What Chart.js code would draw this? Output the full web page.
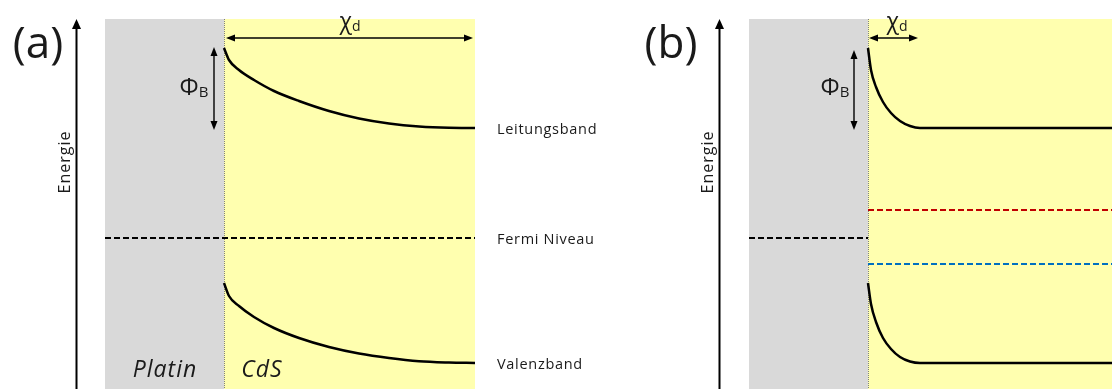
<!DOCTYPE html>
<html>
<head>
<meta charset="utf-8">
<script src="https://cdn.jsdelivr.net/npm/chart.js@4.4.1/dist/chart.umd.min.js"></script>
<style>
  body { margin: 0; background: #fff; width: 1112px; height: 389px; position: relative; overflow: hidden; }
  .panel { position: absolute; top: 0; height: 389px; }
  #panelA { left: 0; width: 630px; }
  #panelB { left: 630px; width: 482px; }
</style>
</head>
<body>
<div class="panel" id="panelA"><canvas id="chartA" width="630" height="389"></canvas></div>
<div class="panel" id="panelB"><canvas id="chartB" width="482" height="389"></canvas></div>
<script>
// x = distance from the Pt/CdS interface (arb. units), y = energy relative to Fermi level (eV)

// panel (a): wide depletion zone
const condA_x = [0, 0.5, 1.5, 3.0, 5.0, 7.5, 10.5, 13.5, 16.5, 19.5, 22.5, 25.1];
const condA_E = [1.90, 1.78, 1.68, 1.58, 1.47, 1.37, 1.27, 1.195, 1.145, 1.115, 1.102, 1.10];
const valA_x = [0, 0.5, 1.5, 3.0, 5.0, 7.5, 10.5, 13.5, 16.5, 19.5, 22.5, 25.1];
const valA_E = [-0.45, -0.58, -0.68, -0.79, -0.90, -1.00, -1.09, -1.155, -1.20, -1.232, -1.245, -1.25];
const fermiA_x = [-11.9, 25.1];
const fermiA_E = [0, 0];

// panel (b): narrow depletion zone
const condB_x = [0, 0.3, 0.8, 1.5, 2.3, 3.2, 4.2, 5.2, 24.4];
const condB_E = [1.90, 1.68, 1.51, 1.36, 1.25, 1.17, 1.12, 1.10, 1.10];
const valB_x = [0, 0.3, 0.8, 1.5, 2.3, 3.2, 4.2, 5.2, 24.4];
const valB_E = [-0.45, -0.66, -0.84, -1.00, -1.11, -1.19, -1.235, -1.25, -1.25];
const fermiMetalB_x = [-11.9, 0];
const fermiMetalB_E = [0, 0];
const levelB_x = [0, 24.4];
const redLevelB_E = [0.28, 0.28];
const blueLevelB_E = [-0.26, -0.26];

const bandLabels = ['Leitungsband', 'Fermi Niveau', 'Valenzband'];
const bandLabelE = [1.08, -0.02, -1.27];

function pts(xs, ys) {
  return xs.map((x, i) => ({ x: x, y: ys[i] }));
}

function curve(xs, ys) {
  return {
    data: pts(xs, ys),
    borderColor: '#000',
    borderWidth: 2.5,
    pointRadius: 0,
    cubicInterpolationMode: 'monotone',
    fill: false,
  };
}

function dashed(xs, ys, color) {
  return {
    data: pts(xs, ys),
    borderColor: color,
    borderWidth: 2,
    borderDash: [6, 3],
    pointRadius: 0,
    fill: false,
  };
}

function arrowHead(ctx, x, y, dir, len, half) {
  // dir: 'up' | 'down' | 'left' | 'right', (x,y) is the tip
  ctx.beginPath();
  ctx.moveTo(x, y);
  if (dir === 'up') { ctx.lineTo(x - half, y + len); ctx.lineTo(x + half, y + len); }
  if (dir === 'down') { ctx.lineTo(x - half, y - len); ctx.lineTo(x + half, y - len); }
  if (dir === 'left') { ctx.lineTo(x + len, y - half); ctx.lineTo(x + len, y + half); }
  if (dir === 'right') { ctx.lineTo(x - len, y - half); ctx.lineTo(x - len, y + half); }
  ctx.closePath();
  ctx.fill();
}

function subText(ctx, main, sub, cx, cy, size) {
  ctx.font = size + 'px "Open Sans"';
  const w1 = ctx.measureText(main).width;
  ctx.font = Math.round(size * 0.62) + 'px "Open Sans"';
  const w2 = ctx.measureText(sub).width;
  const left = cx - (w1 + w2) / 2;
  ctx.textAlign = 'left';
  ctx.textBaseline = 'middle';
  ctx.font = size + 'px "Open Sans"';
  ctx.fillText(main, left, cy);
  ctx.font = Math.round(size * 0.62) + 'px "Open Sans"';
  ctx.fillText(sub, left + w1, cy + size * 0.2);
}

const bandPlugin = {
  id: 'band',
  beforeDatasetsDraw(chart, args, o) {
    const ctx = chart.ctx;
    const xs = chart.scales.x, ys = chart.scales.y;
    const top = ys.getPixelForValue(o.topE);
    const bottom = chart.height;
    const m0 = xs.getPixelForValue(o.metalLeft);
    const i0 = xs.getPixelForValue(0);
    const s1 = xs.getPixelForValue(o.semiRight);
    ctx.save();
    ctx.fillStyle = '#d9d9d9';
    ctx.fillRect(m0, top, i0 - m0, bottom - top);
    ctx.fillStyle = '#ffffaf';
    ctx.fillRect(i0, top, s1 - i0, bottom - top);
    // dotted interface line
    ctx.strokeStyle = '#7f7f7f';
    ctx.lineWidth = 1;
    ctx.setLineDash([1, 1]);
    ctx.beginPath();
    ctx.moveTo(Math.round(i0) + 0.5, top);
    ctx.lineTo(Math.round(i0) + 0.5, bottom);
    ctx.stroke();
    ctx.setLineDash([]);
    // energy axis arrow
    const ax = Math.round(xs.getPixelForValue(o.axisX)) + 0.5;
    ctx.strokeStyle = '#000';
    ctx.fillStyle = '#000';
    ctx.lineWidth = 2;
    ctx.beginPath();
    ctx.moveTo(ax, bottom);
    ctx.lineTo(ax, top + 8);
    ctx.stroke();
    arrowHead(ctx, ax, top, 'up', 10, 4.5);
    ctx.restore();
  },
  afterDatasetsDraw(chart, args, o) {
    const ctx = chart.ctx;
    const xs = chart.scales.x, ys = chart.scales.y;
    ctx.save();
    ctx.strokeStyle = '#000';
    ctx.fillStyle = '#000';
    ctx.lineWidth = 1.4;

    // chi_d double arrow
    const cy = ys.getPixelForValue(o.chiE);
    const c0 = xs.getPixelForValue(o.chiFrom), c1 = xs.getPixelForValue(o.chiTo);
    ctx.beginPath();
    ctx.moveTo(c0 + 6, cy);
    ctx.lineTo(c1 - 6, cy);
    ctx.stroke();
    arrowHead(ctx, c0, cy, 'left', 9, 3.5);
    arrowHead(ctx, c1, cy, 'right', 9, 3.5);

    // phi_B double arrow
    const px = xs.getPixelForValue(o.phiX);
    const p0 = ys.getPixelForValue(o.phiTop), p1 = ys.getPixelForValue(o.phiBottom);
    ctx.beginPath();
    ctx.moveTo(px, p0 + 6);
    ctx.lineTo(px, p1 - 6);
    ctx.stroke();
    arrowHead(ctx, px, p0, 'up', 9, 3.5);
    arrowHead(ctx, px, p1, 'down', 9, 3.5);

    // texts
    ctx.fillStyle = '#1a1a1a';
    subText(ctx, '\u03C7', 'd', xs.getPixelForValue(o.chiLabelX), ys.getPixelForValue(o.chiLabelE), 23);
    subText(ctx, '\u03A6', 'B', xs.getPixelForValue(o.phiLabelX), ys.getPixelForValue(o.phiLabelE), 24);

    ctx.textAlign = 'center';
    ctx.textBaseline = 'middle';
    ctx.font = '44px "Open Sans"';
    ctx.fillText(o.tag, xs.getPixelForValue(o.tagX), ys.getPixelForValue(o.tagE));

    ctx.save();
    ctx.translate(xs.getPixelForValue(o.energyX), ys.getPixelForValue(0.76));
    ctx.rotate(-Math.PI / 2);
    ctx.font = '16px "Open Sans"';
    ctx.letterSpacing = '1px';
    ctx.fillText('Energie', 0, 0);
    ctx.restore();

    if (o.showNames) {
      ctx.font = 'italic 23px "Open Sans"';
      ctx.letterSpacing = '1px';
      ctx.fillText('Platin', xs.getPixelForValue(-5.9), ys.getPixelForValue(-1.32));
      ctx.fillText('CdS', xs.getPixelForValue(3.8), ys.getPixelForValue(-1.32));
      ctx.textAlign = 'left';
      ctx.font = '14.5px "Open Sans"';
      ctx.letterSpacing = '0.7px';
      bandLabels.forEach((t, i) => {
        ctx.fillText(t, xs.getPixelForValue(27.3), ys.getPixelForValue(bandLabelE[i]));
      });
    }
    ctx.restore();
  },
};

function makeChart(id, datasets, xMin, xMax, band) {
  return new Chart(document.getElementById(id), {
    type: 'line',
    data: { datasets: datasets },
    options: {
      responsive: false,
      animation: false,
      devicePixelRatio: 1,
      layout: { padding: 0 },
      scales: {
        x: { type: 'linear', display: false, min: xMin, max: xMax },
        y: { type: 'linear', display: false, min: -1.51, max: 2.38 },
      },
      plugins: {
        legend: { display: false },
        tooltip: { enabled: false },
        band: band,
      },
    },
    plugins: [bandPlugin],
  });
}

makeChart('chartA', [
  curve(condA_x, condA_E),
  curve(valA_x, valA_E),
  dashed(fermiA_x, fermiA_E, '#000'),
], -22.4, 40.6, {
  tag: '(a)', tagX: -18.6, tagE: 1.93,
  topE: 2.19, metalLeft: -11.9, semiRight: 25.1, axisX: -14.8, energyX: -15.9,
  chiE: 2.00, chiFrom: 0.2, chiTo: 24.9, chiLabelX: 12.6, chiLabelE: 2.16,
  phiX: -1.0, phiTop: 1.91, phiBottom: 1.08, phiLabelX: -3.0, phiLabelE: 1.50,
  showNames: true,
});

makeChart('chartB', [
  curve(condB_x, condB_E),
  curve(valB_x, valB_E),
  dashed(fermiMetalB_x, fermiMetalB_E, '#000'),
  dashed(levelB_x, redLevelB_E, '#c00000'),
  dashed(levelB_x, blueLevelB_E, '#0070c0'),
], -23.8, 24.4, {
  tag: '(b)', tagX: -19.7, tagE: 1.93,
  topE: 2.19, metalLeft: -11.9, semiRight: 24.4, axisX: -14.9, energyX: -16.0,
  chiE: 2.00, chiFrom: 0.1, chiTo: 5.0, chiLabelX: 2.9, chiLabelE: 2.16,
  phiX: -1.4, phiTop: 1.88, phiBottom: 1.08, phiLabelX: -3.3, phiLabelE: 1.50,
  showNames: false,
});
</script>
</body>
</html>
